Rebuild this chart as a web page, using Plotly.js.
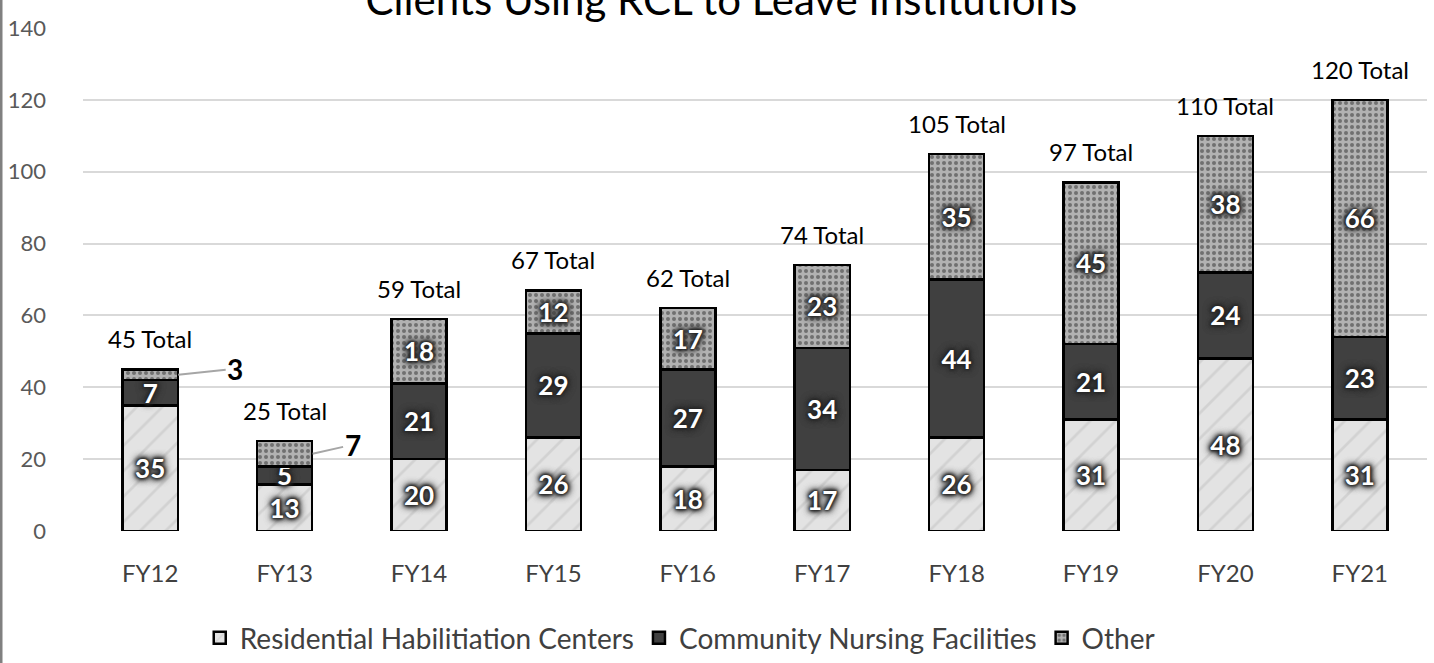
<!DOCTYPE html>
<html>
<head>
<meta charset="utf-8">
<script src="https://cdn.plot.ly/plotly-3.0.1.min.js"></script>
<style>
  html, body { margin: 0; padding: 0; background: #fff; }
  #chart { width: 1434px; height: 663px; }
</style>
</head>
<body>
<div id="chart"></div>
<script>
const categories = ["FY12","FY13","FY14","FY15","FY16","FY17","FY18","FY19","FY20","FY21"];
const residential = [35,13,20,26,18,17,26,31,48,31];
const nursing     = [7,5,21,29,27,34,44,21,24,23];
const other       = [3,7,18,12,17,23,35,45,38,66];
const seriesNames = ["Residential Habilitiation Centers","Community Nursing Facilities","Other"];

const totals = categories.map((c,i) => residential[i] + nursing[i] + other[i]);

const FONT = "Lato, 'Open Sans', sans-serif";
const glow = "0 0 2px #262626, 0 0 3px #262626, 0 0 4px #262626, 0 0 5px #262626, 0 0 6px #2e2e2e, 0 0 8px #333, 0 0 9px #3a3a3a";

const insideFont = {family: FONT, size: 26, color: "#ffffff", weight: "bold", shadow: glow};

function barTrace(name, vals, fill, pattern, txt) {
  return {
    type: "bar", name: name, x: categories, y: vals,
    text: txt, textposition: "inside", insidetextanchor: "middle",
    constraintext: "none", textangle: 0,
    insidetextfont: insideFont, textfont: insideFont,
    cliponaxis: false,
    marker: {color: fill, line: {color: "#000", width: 2.5}, pattern: pattern},
    hoverinfo: "x+y+name"
  };
}

const otherText = other.map(v => v < 10 ? "" : String(v));

const traces = [
  barTrace(seriesNames[0], residential, "#e2e2e2",
    {shape: "/", bgcolor: "#e3e3e3", fgcolor: "#d2d2d2", size: 18, solidity: 0.15, fillmode: "replace"},
    residential.map(String)),
  barTrace(seriesNames[1], nursing, "#404040", undefined, nursing.map(String)),
  barTrace(seriesNames[2], other, "#aaaaaa",
    {shape: ".", bgcolor: "#b2b2b2", fgcolor: "#707070", size: 6, solidity: 0.35, fillmode: "replace"},
    otherText)
];

const annotations = [];
categories.forEach((c,i) => {
  annotations.push({
    x: c, y: totals[i], xref: "x", yref: "y",
    text: totals[i] + " Total", showarrow: false,
    yanchor: "bottom", yshift: 14,
    font: {family: FONT, size: 24, color: "#000"}
  });
});
// outside labels for the small "Other" segments
const outsideOffsets = {0: [57, -6], 1: [40, -9]};
other.forEach((v,i) => {
  if (v < 10) {
    const off = outsideOffsets[i] || [45, -8];
    annotations.push({
      x: categories[i], y: residential[i] + nursing[i] + v/2, xref: "x", yref: "y",
      xshift: 28,
      text: String(v), showarrow: true, arrowhead: 0, arrowwidth: 2, arrowcolor: "#a6a6a6",
      ax: off[0], ay: off[1], standoff: 0,
      font: {family: FONT, size: 28, color: "#000", weight: "bold"}
    });
  }
});

const layout = {
  width: 1434, height: 663,
  margin: {l: 83, r: 7, t: 28, b: 132},
  paper_bgcolor: "#ffffff", plot_bgcolor: "#ffffff",
  barmode: "stack", bargap: 0.59,
  title: {
    text: "Clients Using RCL to Leave Institutions",
    font: {family: FONT, size: 42, color: "#000000"},
    xref: "container", x: 0.503, xanchor: "center",
    yref: "container", y: 1.0, yanchor: "middle"
  },
  showlegend: true,
  legend: {
    orientation: "h", xref: "paper", x: 0.444, xanchor: "center",
    yref: "container", y: -0.005, yanchor: "bottom",
    font: {family: FONT, size: 28, color: "#404040"},
    traceorder: "normal", itemwidth: 30
  },
  xaxis: {
    type: "category", tickfont: {family: FONT, size: 24, color: "#404040"},
    showgrid: false, showline: false, zeroline: false, ticks: "",
    ticklabelstandoff: 26
  },
  yaxis: {
    range: [0, 140], dtick: 20, tick0: 0,
    tickfont: {family: FONT, size: 22, color: "#595959"},
    showgrid: true, gridcolor: "#d9d9d9", gridwidth: 2,
    zeroline: false, showline: false, ticks: "",
    ticklabelstandoff: 36
  },
  shapes: [{
    type: "line", xref: "paper", yref: "paper",
    x0: -82/1344, x1: -82/1344, y0: -132/503, y1: 1 + 28/503,
    line: {color: "#808080", width: 3}
  }],
  annotations: annotations,
  font: {family: FONT}
};

Plotly.newPlot("chart", traces, layout, {displayModeBar: false, staticPlot: true});
</script>
</body>
</html>
